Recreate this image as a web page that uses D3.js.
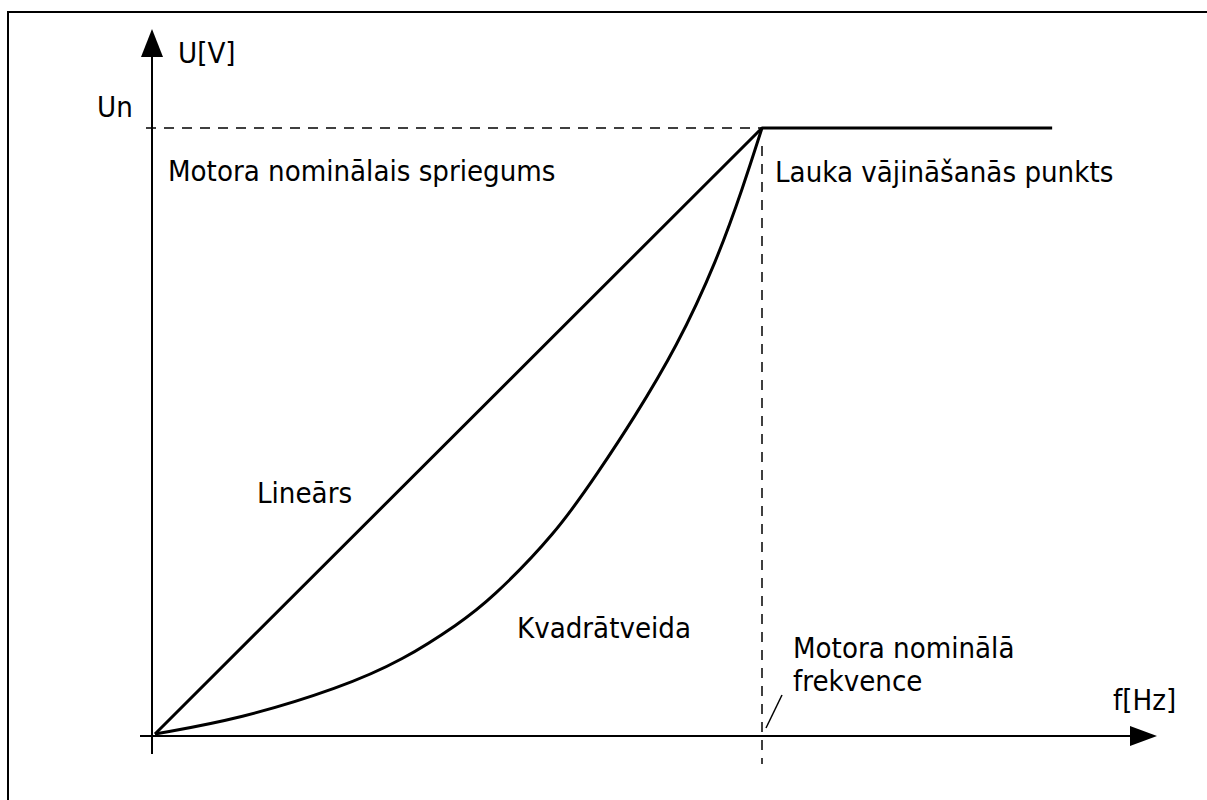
<!DOCTYPE html>
<html>
<head>
<meta charset="utf-8">
<script src="https://cdn.jsdelivr.net/npm/d3@7"></script>
<style>
  body { margin: 0; background: #fff; }
  text { font-family: "DejaVu Sans", Verdana, sans-serif; font-size: 26.2px; fill: #000; }
</style>
</head>
<body>
<div id="chart"></div>
<script>
// frequency as % of nominal motor frequency, voltage as % of Un
var freq = [0, 14, 30.5, 40.9, 50.2, 55.2, 66, 73.3, 78.7, 86, 92.6, 96.9, 100];
var quadU = [0, 2.5, 7.6, 12.2, 18.3, 22.1, 33, 43.6, 51.8, 63.9, 78.2, 90.3, 100];
var linFreq = [0, 100, 147.8];
var linU = [0, 100, 100];
var fieldWeakening = 100;   // f where U reaches Un
var nominalU = 100;

var width = 1207,
    height = 800;

var svg = d3.select("#chart")
  .append("svg")
  .attr("width", width)
  .attr("height", height);

var x = d3.scaleLinear().domain([0, 100]).range([155, 762]),
    y = d3.scaleLinear().domain([0, 100]).range([734, 128]);

var origin = {x: 152, y: 736};

// frame
svg.append("rect")
  .attr("x", 8).attr("y", 12)
  .attr("width", 1300).attr("height", 900)
  .attr("fill", "none")
  .attr("stroke", "#000")
  .attr("stroke-width", 2);

// axes
svg.append("line")
  .attr("x1", origin.x).attr("x2", origin.x)
  .attr("y1", 754).attr("y2", 50)
  .attr("stroke", "#000").attr("stroke-width", 2);
svg.append("path")
  .attr("d", "M" + origin.x + ",29 L" + (origin.x - 11) + ",57 L" + (origin.x + 11) + ",57 Z")
  .attr("fill", "#000");

svg.append("line")
  .attr("x1", 140).attr("x2", 1135)
  .attr("y1", origin.y).attr("y2", origin.y)
  .attr("stroke", "#000").attr("stroke-width", 2);
svg.append("path")
  .attr("d", "M1157," + origin.y + " L1130," + (origin.y - 10) + " L1130," + (origin.y + 10) + " Z")
  .attr("fill", "#000");

// dashed guides
svg.append("line")
  .attr("x1", 146).attr("x2", x(fieldWeakening))
  .attr("y1", y(nominalU)).attr("y2", y(nominalU))
  .attr("stroke", "#000").attr("stroke-width", 1.5)
  .attr("stroke-dasharray", "10,8");
svg.append("line")
  .attr("x1", x(fieldWeakening)).attr("x2", x(fieldWeakening))
  .attr("y1", 146).attr("y2", 764)
  .attr("stroke", "#000").attr("stroke-width", 1.5)
  .attr("stroke-dasharray", "10,8");

// curves
var line = d3.line()
  .x(function (d) { return x(d[0]); })
  .y(function (d) { return y(d[1]); });

svg.append("path")
  .datum(d3.zip(linFreq, linU))
  .attr("fill", "none")
  .attr("stroke", "#000")
  .attr("stroke-width", 3)
  .attr("stroke-linejoin", "round")
  .attr("d", line);

var smooth = d3.line()
  .curve(d3.curveBasis)
  .x(function (d) { return x(d[0]); })
  .y(function (d) { return y(d[1]); });

svg.append("path")
  .datum(d3.zip(freq, quadU))
  .attr("fill", "none")
  .attr("stroke", "#000")
  .attr("stroke-width", 3)
  .attr("d", smooth);

// leader line for nominal frequency
svg.append("line")
  .attr("x1", 766).attr("y1", 728)
  .attr("x2", 782).attr("y2", 695)
  .attr("stroke", "#000").attr("stroke-width", 1.5);

// labels (slightly taller glyphs than plain DejaVu)
var labels = [
  {t: "U[V]", x: 178, y: 63},
  {t: "Un", x: 97, y: 117},
  {t: "Motora nominālais spriegums", x: 168, y: 181},
  {t: "Lauka vājināšanās punkts", x: 775, y: 182},
  {t: "Lineārs", x: 257, y: 503},
  {t: "Kvadrātveida", x: 517, y: 638},
  {t: "Motora nominālā", x: 793, y: 658},
  {t: "frekvence", x: 793, y: 691},
  {t: "f[Hz]", x: 1113, y: 710}
];

svg.selectAll("text.lbl")
  .data(labels)
  .enter().append("text")
  .attr("class", "lbl")
  .attr("transform", function (d) { return "translate(" + d.x + "," + d.y + ") scale(1,1.1)"; })
  .text(function (d) { return d.t; });
</script>
</body>
</html>
